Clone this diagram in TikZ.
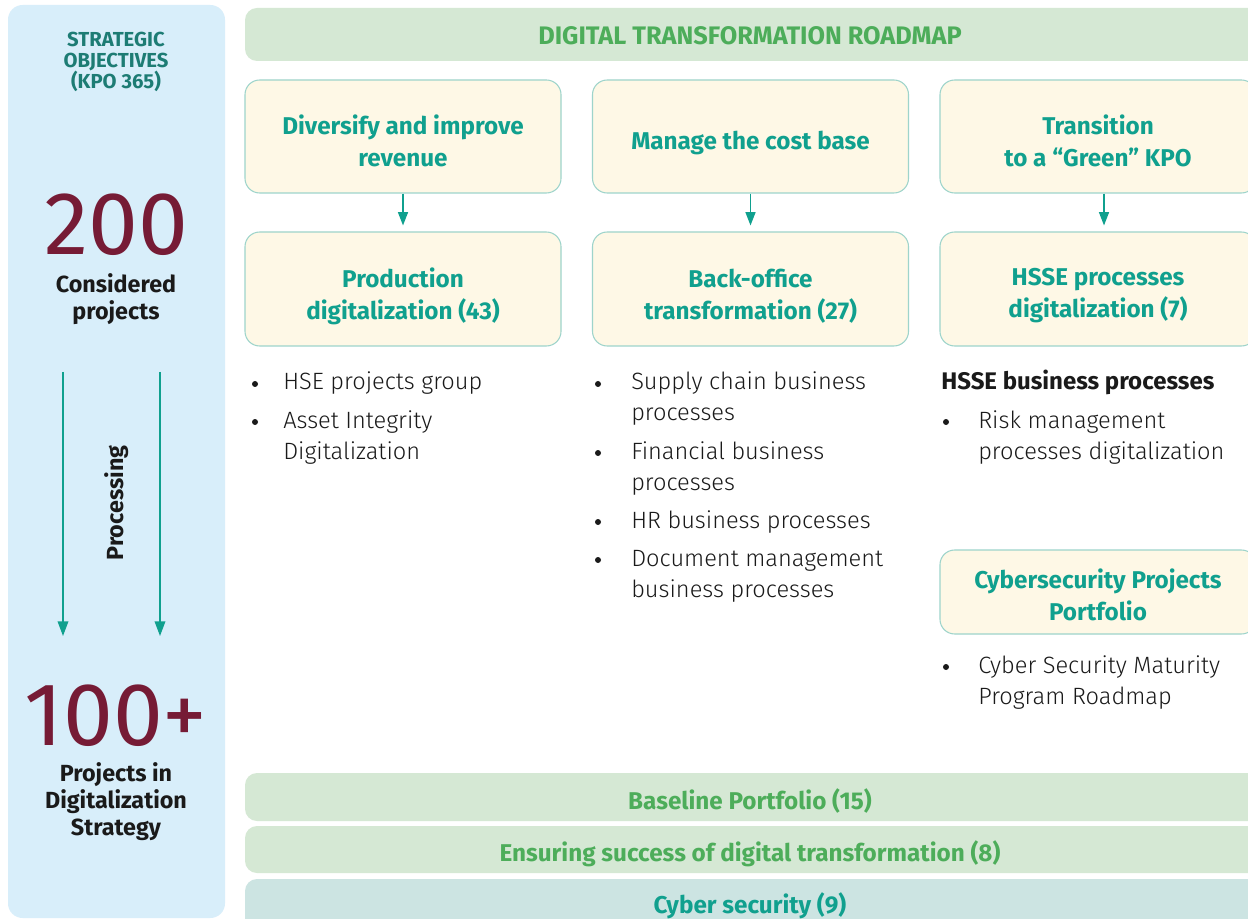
\documentclass[tikz,border=0pt]{standalone}
\usepackage{fontspec}
\setmainfont{Fira Sans}
\newfontfamily\lightfont{Fira Sans Light}
\usetikzlibrary{arrows.meta}
\definecolor{panel}{HTML}{D8EEFA}
\definecolor{band}{HTML}{D5E8D4}
\definecolor{bandtwo}{HTML}{CCE4E2}
\definecolor{cream}{HTML}{FEF8E6}
\definecolor{edge}{HTML}{9ED4CB}
\definecolor{tealtxt}{HTML}{10A08E}
\definecolor{darkteal}{HTML}{1D7C74}
\definecolor{grn}{HTML}{4DAD5A}
\definecolor{maroon}{HTML}{761B35}
\definecolor{ink}{HTML}{1A1A1A}
\newcommand\headfont{\bfseries\fontsize{18.2}{24}\selectfont}
\newcommand\bodyfont{\lightfont\fontsize{17.7}{23}\selectfont}
\newcommand\bodyline[4]{\node[bodytxt] (#1) at (#2,#3) {#4};}
\newcommand\bulletdot[3]{\node[dot] (#1) at (#2,#3) {};}
\begin{document}
\begin{tikzpicture}[x=0.75pt,y=-0.75pt,
  rbox/.style={draw=edge, line width=0.8pt, fill=cream, rounded corners=11pt,
    inner sep=0pt, minimum width=237pt},
  headtxt/.style={align=center, text=tealtxt, font=\headfont, inner sep=0pt},
  bandbox/.style={fill=band, rounded corners=9pt, inner sep=0pt,
    minimum width=768.75pt},
  bodytxt/.style={anchor=base west, inner sep=0pt, font=\bodyfont, text=ink},
  dot/.style={circle, fill=ink, inner sep=0pt, minimum size=4.5pt},
  flow/.style={draw=tealtxt, line width=1pt, -{Triangle[width=7.5pt,length=10pt]}},
  bigflow/.style={draw=tealtxt, line width=1pt, -{Triangle[width=8pt,length=11pt]}},
  blk/.style={font=\bfseries\fontsize{17.5}{20.25}\selectfont, text=ink, align=center, inner sep=0pt},
  bignum/.style={font=\fontsize{67}{67}\selectfont, text=maroon, inner sep=0pt, anchor=base}
]
\useasboundingbox (0,0) rectangle (1248,919);
\fill[white] (0,0) rectangle (1248,919);

% left panel
\node[fill=panel, rounded corners=11pt, minimum width={217*0.75pt}, minimum height={913*0.75pt}, inner sep=0pt] (panel) at (116.5,461.5) {};
\node[font=\bfseries\fontsize{15.2}{15.75}\selectfont, text=darkteal, align=center, inner sep=0pt] (so) at (116,62) {STRATEGIC\\OBJECTIVES\\(KPO 365)};
\node[bignum] (n200) at (116,255) {200};
\node[blk] (cons) at (116,299) {Considered\\projects};
\coordinate (p1s) at (63,372);
\coordinate (p1e) at (63,636);
\coordinate (p2s) at (160,372);
\coordinate (p2e) at (160,636);
\draw[bigflow] (p1s) -- (p1e);
\draw[bigflow] (p2s) -- (p2e);
\node[blk, rotate=90] (proc) at (117,503) {Processing};
\node[bignum] (n100) at (116,745) {100+};
\node[blk] (pids) at (116,802) {Projects in\\Digitalization\\Strategy};

% title band
\node[bandbox, minimum height={53*0.75pt}] (title) at (757.5,34.5) {};
\node[font=\bfseries\fontsize{19}{24}\selectfont, text=grn, inner sep=0pt] (titletxt) at (750,36) {DIGITAL TRANSFORMATION ROADMAP};

% row 1
\node[rbox, minimum height={113*0.75pt}] (a1) at (403,136.5) {};
\node[rbox, minimum height={113*0.75pt}] (a2) at (750.5,136.5) {};
\node[rbox, minimum height={113*0.75pt}] (a3) at (1098,136.5) {};
\node[headtxt] (a1t) at (403,141) {Diversify and improve\\revenue};
\node[headtxt] (a2t) at (750.5,143) {Manage the cost base};
\node[headtxt] (a3t) at (1098,141) {Transition\\to a “Green” KPO};
% row 2
\node[rbox, minimum height={114*0.75pt}] (b1) at (403,289) {};
\node[rbox, minimum height={114*0.75pt}] (b2) at (750.5,289) {};
\node[rbox, minimum height={114*0.75pt}] (b3) at (1098,289) {};
\node[headtxt] (b1t) at (403,296) {Production\\digitalization (43)};
\node[headtxt] (b2t) at (750.5,296) {Back-office\\transformation (27)};
\node[headtxt] (b3t) at (1098,296) {HSSE processes\\digitalization (7)};
\draw[flow, shorten >=4.5pt] (a1.south) -- (b1.north);
\draw[flow, shorten >=4.5pt] (a2.south) -- (b2.north);
\draw[flow, shorten >=4.5pt] ([xshift=4.5pt]a3.south) -- ([xshift=4.5pt]b3.north);

% column 1 list
\bulletdot{d11}{255}{384}
\bodyline{t11}{283}{390}{HSE projects group}
\bulletdot{d12}{255}{422}
\bodyline{t12}{283}{428}{Asset Integrity}
\bodyline{t12b}{283}{459}{Digitalization}

% column 2 list
\bulletdot{d21}{598}{384}
\bodyline{t21}{631}{390}{Supply chain business}
\bodyline{t21b}{631}{421}{processes}
\bulletdot{d22}{598}{453}
\bodyline{t22}{631}{459}{Financial business}
\bodyline{t22b}{631}{490}{processes}
\bulletdot{d23}{598}{522}
\bodyline{t23}{631}{528}{HR business processes}
\bulletdot{d24}{598}{560}
\bodyline{t24}{631}{566}{Document management}
\bodyline{t24b}{631}{597}{business processes}

% column 3 list
\node[anchor=base west, inner sep=0pt, font=\bfseries\fontsize{18}{23}\selectfont, text=ink] (hsse) at (941,390) {HSSE business processes};
\bulletdot{d31}{946}{422}
\bodyline{t31}{978}{428}{Risk management}
\bodyline{t31b}{978}{459}{processes digitalization}

\node[rbox, minimum height={84*0.75pt}] (c3) at (1098,592) {};
\node[headtxt] (c3t) at (1098,595) {Cybersecurity Projects\\Portfolio};
\bulletdot{d32}{946}{667}
\bodyline{t32}{978}{673}{Cyber Security Maturity}
\bodyline{t32b}{978}{704}{Program Roadmap}

% bottom bars
\node[bandbox, minimum height={48*0.75pt}] (bar1) at (757.5,797) {};
\node[font=\headfont, text=grn, inner sep=0pt] (bar1t) at (750,801) {Baseline Portfolio (15)};
\node[bandbox, minimum height={47*0.75pt}] (bar2) at (757.5,849.5) {};
\node[font=\headfont, text=grn, inner sep=0pt] (bar2t) at (750,854) {Ensuring success of digital transformation (8)};
\node[bandbox, fill=bandtwo, minimum height={56*0.75pt}] (bar3) at (757.5,907) {};
\node[font=\headfont, text=tealtxt, inner sep=0pt] (bar3t) at (750,906) {Cyber security (9)};
\end{tikzpicture}
\end{document}
